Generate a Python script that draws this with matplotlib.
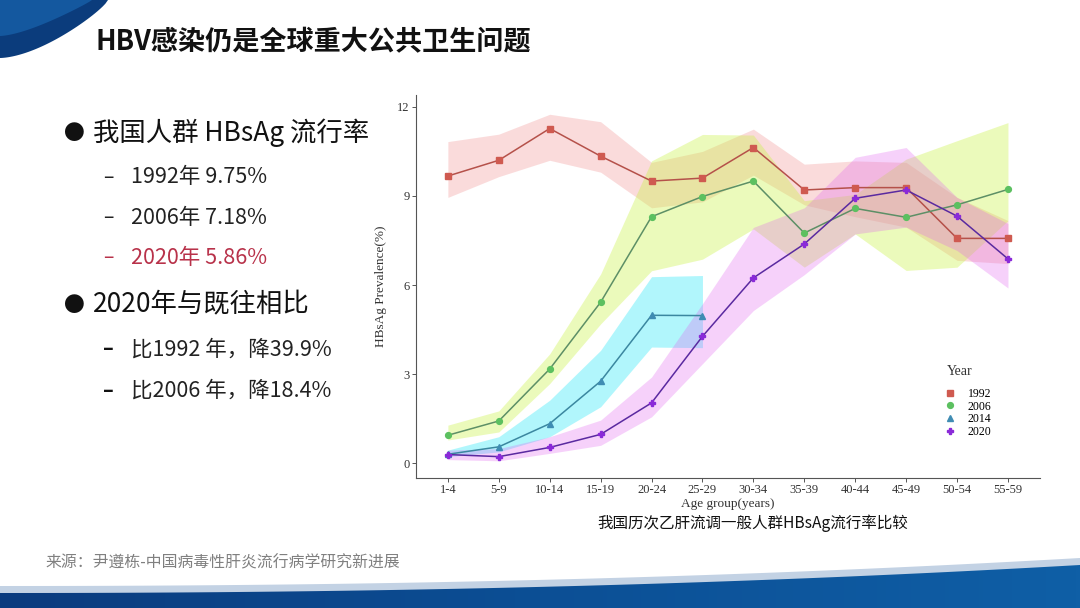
import numpy as np
import matplotlib.pyplot as plt
from matplotlib.patches import Polygon
from matplotlib.colors import LinearSegmentedColormap

plt.rcParams['font.family'] = ['Noto Sans CJK SC', 'DejaVu Sans']

ages = ['1-4', '5-9', '10-14', '15-19', '20-24', '25-29', '30-34', '35-39',
        '40-44', '45-49', '50-54', '55-59']

p1992 = [9.67, 10.2, 11.27, 10.34, 9.5, 9.6, 10.63, 9.2, 9.28, 9.28, 7.57, 7.57]
lo1992 = [8.95, 9.65, 10.2, 9.8, 8.6, 8.8, 9.7, 8.7, 8.3, 7.95, 6.83, 6.72]
hi1992 = [10.83, 11.08, 11.75, 11.5, 10.13, 10.5, 11.25, 10.07, 10.18, 10.13, 8.95, 8.17]

p2006 = [0.94, 1.42, 3.17, 5.42, 8.3, 8.98, 9.5, 7.75, 8.58, 8.28, 8.7, 9.22]
lo2006 = [0.78, 1.05, 2.68, 4.69, 6.48, 6.87, 7.89, 6.6, 7.72, 6.49, 6.6, 8.17]
hi2006 = [1.28, 1.76, 3.68, 6.37, 10.18, 11.07, 11.05, 8.84, 9.05, 10.24, 10.86, 11.47]

p2014 = [0.3, 0.55, 1.33, 2.76, 4.98, 4.97]
lo2014 = [0.22, 0.38, 0.89, 1.9, 3.91, 3.89]
hi2014 = [0.44, 0.89, 2.12, 3.8, 6.28, 6.32]

p2020 = [0.29, 0.22, 0.53, 0.97, 2.03, 4.27, 6.24, 7.38, 8.92, 9.2, 8.32, 6.88]
lo2020 = [0.12, 0.08, 0.33, 0.6, 1.56, 3.35, 5.14, 6.35, 7.72, 7.95, 7.16, 5.9]
hi2020 = [0.44, 0.49, 0.89, 1.45, 2.9, 5.37, 7.94, 8.6, 10.3, 10.63, 8.95, 8.07]

years = ['1992', '2006', '2014', '2020']
fig = plt.figure(figsize=(10.8, 6.08), dpi=100)

# slide background, pixel coords
bg = fig.add_axes([0, 0, 1, 1])
bg.axis('off')

# top-left swoosh
t = np.linspace(0, 1, 50)
xs = 108 * (1 - t) ** 1.2
ys = 58 * np.sin(t * np.pi / 2) ** 0.8
bg.add_patch(Polygon(np.column_stack([np.r_[0, xs], np.r_[0, ys]]), closed=True,
                     color='#0b3c7c', lw=0))
xs2 = 92 * (1 - t) ** 1.3
ys2 = 36 * np.sin(t * np.pi / 2) ** 0.9
bg.add_patch(Polygon(np.column_stack([np.r_[0, xs2], np.r_[0, ys2]]), closed=True,
                     color='#14589f', lw=0))

# bottom band
xb = np.linspace(0, 1080, 100)
yb = 593 - 28 * (xb / 1080) ** 2.2
bg.add_patch(Polygon(np.column_stack([np.r_[xb, 1080, 0], np.r_[yb - 7, 608, 608]]),
                     closed=True, color='#c3d2e4', lw=0))
band = Polygon(np.column_stack([np.r_[xb, 1080, 0], np.r_[yb, 608, 608]]),
               closed=True, lw=0, facecolor='none')
bg.add_patch(band)
grad = LinearSegmentedColormap.from_list('b', ['#0a3b7e', '#0c4f95', '#0f5fa6'])
im = bg.imshow(np.linspace(0, 1, 256)[None, :], cmap=grad, aspect='auto',
               extent=[0, 1080, 608, 555], zorder=1)
im.set_clip_path(band)
bg.set_xlim(0, 1080)
bg.set_ylim(608, 0)

# slide text
bg.text(95, 42, 'HBV感染仍是全球重大公共卫生问题', fontsize=19.5, weight='bold',
        va='center', color='#111')
bg.text(64, 133, '●', fontsize=15, va='center', color='#111')
bg.text(93, 133, '我国人群 HBsAg 流行率', fontsize=19, va='center', color='#111')
subs = ['1992年 9.75%', '2006年 7.18%', '2020年 5.86%']
sub_y = [177, 218, 258]
sub_c = ['#222', '#222', '#b8324a']
for s, y, c in zip(subs, sub_y, sub_c):
    bg.text(103, y, '–', fontsize=14, va='center', color=c)
    bg.text(131, y, s, fontsize=15.5, va='center', color=c)
bg.text(64, 305, '●', fontsize=15, va='center', color='#111')
bg.text(93, 305, '2020年与既往相比', fontsize=19, va='center', color='#111')
for s, y in zip(['比1992 年，降39.9%', '比2006 年，降18.4%'], [350, 391]):
    bg.text(103, y, '–', fontsize=14, va='center', color='#111', weight='bold')
    bg.text(131, y, s, fontsize=15.5, va='center', color='#222')

bg.text(753, 523, '我国历次乙肝流调一般人群HBsAg流行率比较', fontsize=11.2,
        ha='center', va='center', color='#111')
bg.text(45, 563, '来源：尹遵栋-中国病毒性肝炎流行病学研究新进展', fontsize=11.4,
        va='center', color='#808080')

# chart
ax = fig.add_axes([0.385, 0.2138, 0.578, 0.63])
x = np.arange(len(ages))
x14 = np.arange(len(p2014))

ax.fill_between(x, lo1992, hi1992, color='#f08a8a', alpha=0.3, lw=0)
ax.fill_between(x, lo2006, hi2006, color='#c8f23c', alpha=0.35, lw=0)
ax.fill_between(x14, lo2014, hi2014, color='#22e6f7', alpha=0.35, lw=0)
ax.fill_between(x, lo2020, hi2020, color='#e05cf0', alpha=0.28, lw=0)

ax.plot(x, p1992, color='#b5514a', lw=1.1)
ax.plot(x, p2006, color='#5d8f66', lw=1.1)
ax.plot(x14, p2014, color='#3b87a0', lw=1.1)
ax.plot(x, p2020, color='#5a2aa0', lw=1.1)

h1, = ax.plot(x, p1992, ls='none', marker='s', ms=4.5, color='#cf5a50', label=years[0])
h2, = ax.plot(x, p2006, ls='none', marker='o', ms=4.2, color='#5cc060', label=years[1])
h3, = ax.plot(x14, p2014, ls='none', marker='^', ms=4.5, color='#3f8cb3', label=years[2])
h4, = ax.plot(x, p2020, ls='none', marker='P', ms=4.2, color='#8a2ad8', label=years[3])

ax.set_xlim(-0.63, 11.63)
ax.set_ylim(-0.5, 12.4)
ax.set_xticks(x)
ax.set_xticklabels(ages)
ax.set_yticks([0, 3, 6, 9, 12])
for s in ['top', 'right']:
    ax.spines[s].set_visible(False)
for s in ['left', 'bottom']:
    ax.spines[s].set_color('#555')
    ax.spines[s].set_linewidth(0.8)
ax.tick_params(length=3, width=0.7, color='#555', labelsize=9, labelcolor='#333', pad=1.5)
for lab in ax.get_xticklabels() + ax.get_yticklabels():
    lab.set_family('Liberation Serif')
ax.set_xlabel('Age group(years)', family='Liberation Serif', fontsize=9.5,
              color='#333', labelpad=1)
ax.set_ylabel('HBsAg Prevalence(%)', family='Liberation Serif', fontsize=9.5,
              color='#333', labelpad=7)

# legend, title placed separately for ggplot-like spacing
ax.text(0.850, 0.277, 'Year', transform=ax.transAxes, family='Liberation Serif',
        fontsize=10, color='#333', va='center', ha='left')
leg = ax.legend(handles=[h1, h2, h3, h4], loc='upper left',
                bbox_to_anchor=(0.846, 0.235), frameon=False, handlelength=1.0,
                labelspacing=0.05, handletextpad=1.0, borderpad=0, borderaxespad=0,
                prop={'family': 'Liberation Serif', 'size': 8.5})

fig.savefig('out.png', dpi=100)
